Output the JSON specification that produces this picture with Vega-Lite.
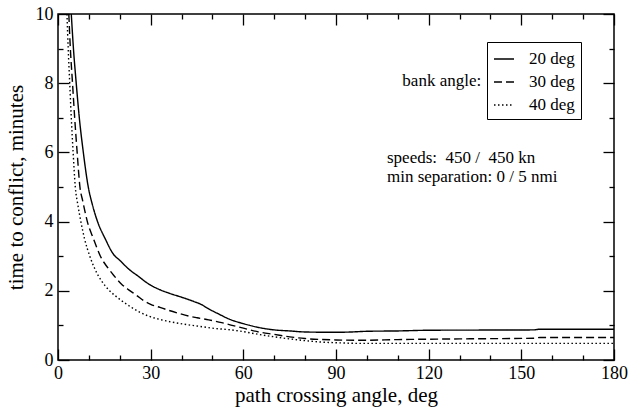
{
  "$schema": "https://vega.github.io/schema/vega-lite/v6.json",
  "width": 556,
  "height": 346,
  "autosize": {"type": "none"},
  "padding": {"left": 58, "top": 14, "right": 16, "bottom": 52},
  "background": "white",
  "config": {
    "view": {"stroke": "black", "strokeWidth": 1.5},
    "font": "Liberation Serif",
    "axis": {
      "domain": false, "grid": false,
      "tickColor": "black", "tickWidth": 1.3,
      "labelColor": "black", "titleColor": "black",
      "labelFont": "Liberation Serif", "titleFont": "Liberation Serif",
      "labelFontSize": 18, "titleFontSize": 21, "titleFontWeight": "normal",
      "labelFlush": false, "labelOverlap": false
    }
  },
  "data": {"values": [
    {"a": 4.3, "t": 10, "b": "20 deg"}, {"a": 5.0, "t": 9, "b": "20 deg"}, {"a": 5.9, "t": 8, "b": "20 deg"}, {"a": 6.9, "t": 7, "b": "20 deg"}, {"a": 8.2, "t": 6, "b": "20 deg"}, {"a": 9.8, "t": 5, "b": "20 deg"}, {"a": 11.1, "t": 4.5, "b": "20 deg"}, {"a": 12.8, "t": 4, "b": "20 deg"}, {"a": 15.3, "t": 3.5, "b": "20 deg"}, {"a": 18, "t": 3.05, "b": "20 deg"}, {"a": 20, "t": 2.88, "b": "20 deg"}, {"a": 23, "t": 2.62, "b": "20 deg"}, {"a": 26, "t": 2.42, "b": "20 deg"}, {"a": 29.3, "t": 2.2, "b": "20 deg"}, {"a": 33, "t": 2.03, "b": "20 deg"}, {"a": 36, "t": 1.93, "b": "20 deg"}, {"a": 40.5, "t": 1.8, "b": "20 deg"}, {"a": 44, "t": 1.69, "b": "20 deg"}, {"a": 46.5, "t": 1.6, "b": "20 deg"}, {"a": 48, "t": 1.52, "b": "20 deg"}, {"a": 50, "t": 1.42, "b": "20 deg"}, {"a": 52, "t": 1.33, "b": "20 deg"}, {"a": 55.5, "t": 1.18, "b": "20 deg"}, {"a": 60, "t": 1.05, "b": "20 deg"}, {"a": 65, "t": 0.94, "b": "20 deg"}, {"a": 70, "t": 0.87, "b": "20 deg"}, {"a": 75, "t": 0.84, "b": "20 deg"}, {"a": 80, "t": 0.81, "b": "20 deg"}, {"a": 90, "t": 0.8, "b": "20 deg"}, {"a": 95, "t": 0.81, "b": "20 deg"}, {"a": 100, "t": 0.83, "b": "20 deg"}, {"a": 110, "t": 0.84, "b": "20 deg"}, {"a": 120, "t": 0.86, "b": "20 deg"}, {"a": 154, "t": 0.87, "b": "20 deg"}, {"a": 156, "t": 0.89, "b": "20 deg"}, {"a": 180, "t": 0.89, "b": "20 deg"},
    {"a": 3.5, "t": 10, "b": "30 deg"}, {"a": 4.0, "t": 9, "b": "30 deg"}, {"a": 4.7, "t": 8, "b": "30 deg"}, {"a": 5.4, "t": 7, "b": "30 deg"}, {"a": 6.2, "t": 6, "b": "30 deg"}, {"a": 7.1, "t": 5, "b": "30 deg"}, {"a": 8.0, "t": 4.6, "b": "30 deg"}, {"a": 9.5, "t": 4, "b": "30 deg"}, {"a": 11.5, "t": 3.5, "b": "30 deg"}, {"a": 14, "t": 2.95, "b": "30 deg"}, {"a": 16, "t": 2.68, "b": "30 deg"}, {"a": 18, "t": 2.45, "b": "30 deg"}, {"a": 20.5, "t": 2.2, "b": "30 deg"}, {"a": 23, "t": 2.02, "b": "30 deg"}, {"a": 25.4, "t": 1.87, "b": "30 deg"}, {"a": 28, "t": 1.7, "b": "30 deg"}, {"a": 30, "t": 1.61, "b": "30 deg"}, {"a": 33, "t": 1.52, "b": "30 deg"}, {"a": 36, "t": 1.43, "b": "30 deg"}, {"a": 39, "t": 1.35, "b": "30 deg"}, {"a": 42.3, "t": 1.27, "b": "30 deg"}, {"a": 45, "t": 1.22, "b": "30 deg"}, {"a": 48.8, "t": 1.16, "b": "30 deg"}, {"a": 53, "t": 1.08, "b": "30 deg"}, {"a": 56, "t": 1.01, "b": "30 deg"}, {"a": 60, "t": 0.92, "b": "30 deg"}, {"a": 65, "t": 0.81, "b": "30 deg"}, {"a": 70, "t": 0.74, "b": "30 deg"}, {"a": 75, "t": 0.67, "b": "30 deg"}, {"a": 80, "t": 0.62, "b": "30 deg"}, {"a": 90, "t": 0.58, "b": "30 deg"}, {"a": 98, "t": 0.57, "b": "30 deg"}, {"a": 110, "t": 0.59, "b": "30 deg"}, {"a": 130, "t": 0.61, "b": "30 deg"}, {"a": 154, "t": 0.63, "b": "30 deg"}, {"a": 156, "t": 0.65, "b": "30 deg"}, {"a": 180, "t": 0.65, "b": "30 deg"},
    {"a": 2.9, "t": 10, "b": "40 deg"}, {"a": 3.3, "t": 9, "b": "40 deg"}, {"a": 3.8, "t": 8, "b": "40 deg"}, {"a": 4.3, "t": 7, "b": "40 deg"}, {"a": 4.9, "t": 6, "b": "40 deg"}, {"a": 5.6, "t": 5, "b": "40 deg"}, {"a": 6.4, "t": 4.5, "b": "40 deg"}, {"a": 7.4, "t": 4, "b": "40 deg"}, {"a": 8.6, "t": 3.5, "b": "40 deg"}, {"a": 10.3, "t": 3, "b": "40 deg"}, {"a": 12, "t": 2.62, "b": "40 deg"}, {"a": 14, "t": 2.3, "b": "40 deg"}, {"a": 16.7, "t": 2.0, "b": "40 deg"}, {"a": 18.5, "t": 1.86, "b": "40 deg"}, {"a": 20.5, "t": 1.72, "b": "40 deg"}, {"a": 23.8, "t": 1.52, "b": "40 deg"}, {"a": 26.5, "t": 1.38, "b": "40 deg"}, {"a": 29.3, "t": 1.27, "b": "40 deg"}, {"a": 35, "t": 1.13, "b": "40 deg"}, {"a": 40.5, "t": 1.04, "b": "40 deg"}, {"a": 46, "t": 0.97, "b": "40 deg"}, {"a": 51, "t": 0.91, "b": "40 deg"}, {"a": 55, "t": 0.88, "b": "40 deg"}, {"a": 60, "t": 0.82, "b": "40 deg"}, {"a": 65, "t": 0.74, "b": "40 deg"}, {"a": 70, "t": 0.67, "b": "40 deg"}, {"a": 75, "t": 0.61, "b": "40 deg"}, {"a": 80, "t": 0.56, "b": "40 deg"}, {"a": 85, "t": 0.52, "b": "40 deg"}, {"a": 90, "t": 0.5, "b": "40 deg"}, {"a": 98, "t": 0.48, "b": "40 deg"}, {"a": 120, "t": 0.48, "b": "40 deg"}, {"a": 150, "t": 0.48, "b": "40 deg"}, {"a": 180, "t": 0.48, "b": "40 deg"}
  ]},
  "layer": [
    {
      "mark": {"type": "line", "color": "black", "strokeWidth": 1.4, "interpolate": "monotone"},
      "encoding": {
        "x": {"field": "a", "type": "quantitative", "scale": {"domain": [0, 180], "nice": false},
              "axis": {"orient": "bottom", "values": [0, 10, 20, 30, 40, 50, 60, 70, 80, 90, 100, 110, 120, 130, 140, 150, 160, 170, 180],
                       "tickSize": {"condition": {"test": "datum.value % 30 === 0", "value": -11}, "value": -5},
                       "labelExpr": "datum.value % 30 === 0 ? datum.label : ''", "labelPadding": 15,
                       "title": "path crossing angle, deg", "titleBaseline": "alphabetic", "titleY": 41}},
        "y": {"field": "t", "type": "quantitative", "scale": {"domain": [0, 10], "nice": false},
              "axis": {"orient": "left", "values": [0, 1, 2, 3, 4, 5, 6, 7, 8, 9, 10],
                       "tickSize": {"condition": {"test": "datum.value % 2 === 0", "value": -11}, "value": -5},
                       "labelExpr": "datum.value % 2 === 0 ? datum.label : ''", "labelPadding": 16,
                       "title": "time to conflict, minutes", "titleBaseline": "alphabetic", "titleX": -36}},
        "strokeDash": {"field": "b", "type": "nominal",
                       "scale": {"domain": ["20 deg", "30 deg", "40 deg"], "range": [[1, 0], [8, 4], [1.5, 2.5]]},
                       "legend": {"orient": "none", "legendX": 429, "legendY": 28, "title": null,
                                  "strokeColor": "black", "padding": 6, "symbolType": "stroke", "symbolSize": 400,
                                  "symbolStrokeWidth": 1.3, "symbolStrokeColor": "black", "labelFont": "Liberation Serif",
                                  "labelFontSize": 17, "labelColor": "black", "labelOffset": 14, "rowPadding": 4}}
      }
    },
    {
      "mark": {"type": "point", "opacity": 0},
      "encoding": {
        "x": {"field": "a", "type": "quantitative",
              "axis": {"orient": "top", "values": [0, 10, 20, 30, 40, 50, 60, 70, 80, 90, 100, 110, 120, 130, 140, 150, 160, 170, 180],
                       "tickSize": {"condition": {"test": "datum.value % 30 === 0", "value": -11}, "value": -5},
                       "labels": false, "title": null}},
        "y": {"field": "t", "type": "quantitative",
              "axis": {"orient": "right", "values": [0, 1, 2, 3, 4, 5, 6, 7, 8, 9, 10],
                       "tickSize": {"condition": {"test": "datum.value % 2 === 0", "value": -11}, "value": -5},
                       "labels": false, "title": null}}
      }
    },
    {
      "data": {"values": [{"label": "bank angle:"}]},
      "mark": {"type": "text", "align": "right", "baseline": "middle", "font": "Liberation Serif", "fontSize": 17, "color": "black"},
      "encoding": {
        "text": {"field": "label"},
        "x": {"datum": 137, "type": "quantitative", "axis": null},
        "y": {"datum": 8.06, "type": "quantitative", "axis": null}
      }
    },
    {
      "data": {"values": [{"label": "speeds:\u00a0 450 /\u00a0 450 kn"}]},
      "mark": {"type": "text", "align": "left", "baseline": "alphabetic", "font": "Liberation Serif", "fontSize": 17, "color": "black"},
      "encoding": {
        "text": {"field": "label"},
        "x": {"datum": 106.5, "type": "quantitative", "axis": null},
        "y": {"datum": 5.69, "type": "quantitative", "axis": null}
      }
    },
    {
      "data": {"values": [{"label": "min separation: 0 / 5 nmi"}]},
      "mark": {"type": "text", "align": "left", "baseline": "alphabetic", "font": "Liberation Serif", "fontSize": 17, "color": "black"},
      "encoding": {
        "text": {"field": "label"},
        "x": {"datum": 106.5, "type": "quantitative", "axis": null},
        "y": {"datum": 5.15, "type": "quantitative", "axis": null}
      }
    }
  ],
  "resolve": {"axis": {"x": "independent", "y": "independent"}}
}
